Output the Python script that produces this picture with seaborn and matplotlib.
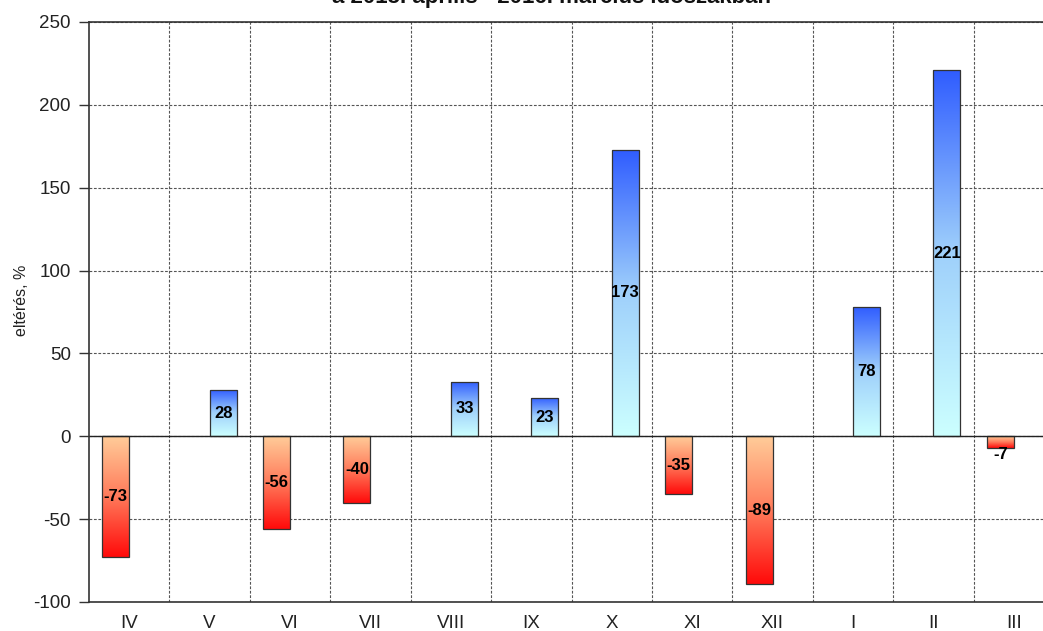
import numpy as np
import pandas as pd
import matplotlib
matplotlib.use("Agg")
import matplotlib.pyplot as plt
from matplotlib.colors import LinearSegmentedColormap
import seaborn as sns

# Monthly deviation (%) for April 2015 - March 2016
months = ["IV", "V", "VI", "VII", "VIII", "IX", "X", "XI", "XII", "I", "II", "III"]
values = [-73, 28, -56, -40, 33, 23, 173, -35, -89, 78, 221, -7]

title = "a 2015. április - 2016. március időszakban"
ylabel = "eltérés, %"
yticks = [-100, -50, 0, 50, 100, 150, 200, 250]

df = pd.DataFrame({"month": months, "value": values})
df["sign"] = np.where(df["value"] < 0, "neg", "pos")

sns.set_theme(style="white")
plt.rcParams["font.family"] = ["Liberation Sans", "DejaVu Sans"]

fig = plt.figure(figsize=(10.43, 6.31), dpi=100)
ax = fig.add_axes([89 / 1043, 1 - 602 / 631, (1054 - 89) / 1043, (602 - 22) / 631])

sns.barplot(data=df, x="month", y="value", hue="sign", hue_order=["neg", "pos"],
            order=months, width=0.672, dodge=True, legend=False,
            edgecolor="#333333", linewidth=0.9, ax=ax, errorbar=None)

ax.set_ylim(-100, 250)
ax.set_xlim(-0.5, len(months) - 0.5)

# gradient fills: pale at the zero line, saturated at the bar end
pos_cmap = LinearSegmentedColormap.from_list("pos", ["#ccffff", "#9fd0fb", "#2f5cff"])
neg_cmap = LinearSegmentedColormap.from_list("neg", ["#ff0a0a", "#ff7a5a", "#ffcc99"])
grad = np.linspace(0, 1, 256).reshape(-1, 1)
for p in list(ax.patches):
    h = p.get_height()
    if h == 0 or np.isnan(h):
        continue
    x0 = p.get_x()
    w = p.get_width()
    y0, y1 = sorted([p.get_y(), p.get_y() + h])
    cmap = pos_cmap if h > 0 else neg_cmap
    p.set_facecolor("none")
    im = ax.imshow(grad, cmap=cmap, origin="lower", aspect="auto",
                   extent=[x0, x0 + w, y0, y1], zorder=p.get_zorder() - 0.1,
                   interpolation="bilinear")
    im.set_clip_path(p)
    # value label
    v = int(round(h))
    xc = x0 + w / 2
    if abs(v) < 15:
        ax.text(xc, y0 + 0.5, f"{v}", ha="center", va="top", fontsize=12,
                fontweight="bold", color="black", zorder=5)
    else:
        ax.text(xc, (y0 + y1) / 2, f"{v}", ha="center", va="center", fontsize=12,
                fontweight="bold", color="black", zorder=5)

ax.set_xlim(-0.5, len(months) - 0.5)
ax.set_ylim(-100, 250)

# grid: dashed lines at y ticks and between categories
ax.set_yticks(yticks)
ax.set_yticklabels([str(t) for t in yticks], fontsize=13.5, color="#222222")
ax.set_xticks(np.arange(len(months)))
ax.set_xticklabels(months, fontsize=13.5, color="#222222")
ax.set_xticks(np.arange(len(months) - 1) + 0.5, minor=True)
grid_kw = dict(color="#555555", linestyle=(0, (2.5, 1.5)), linewidth=0.8)
ax.grid(False)
ax.yaxis.grid(True, which="major", **grid_kw)
ax.xaxis.grid(True, which="minor", **grid_kw)
ax.set_axisbelow(True)
ax.axhline(0, color="#222222", linewidth=1.0, zorder=1)

ax.tick_params(axis="y", which="major", length=7, width=1, color="#333333",
               direction="out", pad=6, left=True)
ax.tick_params(axis="x", which="both", length=0, pad=9)

for s in ["left", "bottom", "top"]:
    ax.spines[s].set_visible(True)
    ax.spines[s].set_color("#333333")
    ax.spines[s].set_linewidth(1.2)
ax.spines["right"].set_visible(False)

ax.set_xlabel("")
ax.set_ylabel("")
fig.text(21 / 1043, 1 - 300 / 631, ylabel, rotation=90, ha="center", va="center",
         fontsize=11.5, color="#222222")
fig.text(551 / 1043, 1 - 2.5 / 631, title, ha="center", va="baseline",
         fontsize=16, fontweight="bold", color="#111111")

fig.savefig("out.png", dpi=100)
